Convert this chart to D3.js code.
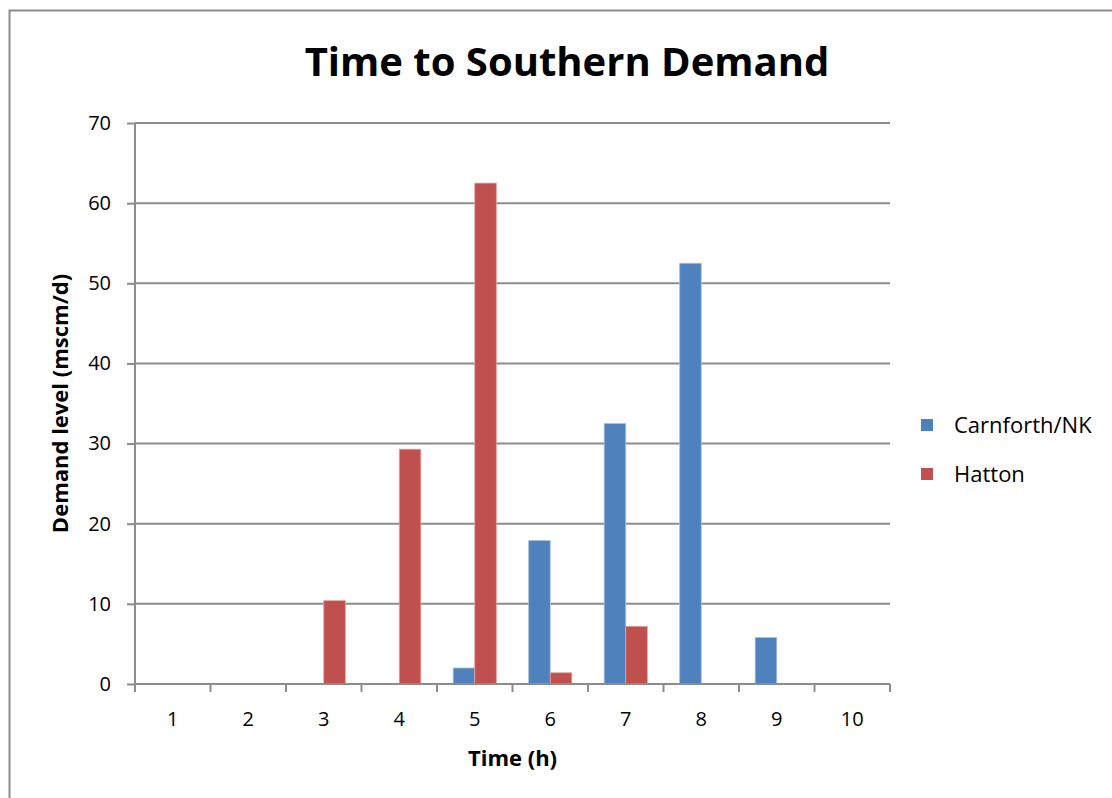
<!DOCTYPE html>
<html>
<head>
<meta charset="utf-8">
<script src="https://cdn.jsdelivr.net/npm/d3@7"></script>
<style>
  html, body { margin: 0; padding: 0; background: #fff; }
  svg { display: block; }
  text { font-family: "Open Sans", Lato, "Noto Sans", sans-serif; fill: #000; }
</style>
</head>
<body>
<script>
// Chart data
const hours = ["1", "2", "3", "4", "5", "6", "7", "8", "9", "10"];
const seriesNames = ["Carnforth/NK", "Hatton"];
const carnforth = [0, 0, 0, 0, 2.0, 17.9, 32.5, 52.5, 5.8, 0];
const hatton = [0, 0, 10.4, 29.3, 62.5, 1.4, 7.2, 0, 0, 0];
const yTicks = [0, 10, 20, 30, 40, 50, 60, 70];
const colors = ["#4F81BD", "#C0504D"];

const W = 1112, H = 798;
const margin = { left: 135, right: 222, top: 123, bottom: 114 };
const plotW = W - margin.left - margin.right;
const plotH = H - margin.top - margin.bottom;

const svg = d3.select("body").append("svg")
  .attr("width", W).attr("height", H);

// outer chart frame
svg.append("rect")
  .attr("x", 9.5).attr("y", 10.5)
  .attr("width", W + 20).attr("height", H + 20)
  .attr("fill", "none").attr("stroke", "#8c8c8c").attr("stroke-width", 2);

const g = svg.append("g").attr("transform", `translate(${margin.left},${margin.top})`);

const x = d3.scaleBand().domain(hours).range([0, plotW]).paddingInner(0).paddingOuter(0);
// gap width of 150%: the two bars take 2 / 3.5 of each category
const barW = x.bandwidth() / 3.5;
const y = d3.scaleLinear().domain([0, 70]).range([plotH, 0]);

// horizontal gridlines
g.append("g")
  .selectAll("line")
  .data(yTicks.filter(d => d > 0))
  .join("line")
  .attr("x1", 0).attr("x2", plotW)
  .attr("y1", d => y(d)).attr("y2", d => y(d))
  .attr("stroke", "#8c8c8c").attr("stroke-width", 2);

// bars
const rows = hours.map((h, i) => ({ h, vals: [carnforth[i], hatton[i]] }));
const groups = g.append("g").selectAll("g")
  .data(rows).join("g")
  .attr("transform", d => `translate(${x(d.h) + barW * 0.75},0)`);
groups.selectAll("rect")
  .data(d => d.vals.map((v, k) => ({ v, k })))
  .join("rect")
  .attr("x", d => d.k * barW)
  .attr("y", d => y(d.v))
  .attr("width", barW)
  .attr("height", d => plotH - y(d.v))
  .attr("fill", d => colors[d.k])
  .attr("stroke", d => d.k === 0 ? "#a9c0dd" : "#e3a3a1")
  .attr("stroke-width", d => d.v > 0 ? 0.8 : 0);

// y axis
const yAxis = d3.axisLeft(y).tickValues(yTicks).tickSize(8).tickPadding(16);
const ya = g.append("g").call(yAxis);
ya.select(".domain").attr("stroke", "#8c8c8c").attr("stroke-width", 2)
  .attr("d", `M0,${plotH + 8}V0`);
ya.selectAll(".tick line").attr("stroke", "#8c8c8c").attr("stroke-width", 2);
ya.selectAll(".tick text").style("font-size", "20px");

// x axis with ticks at category boundaries
const xa = g.append("g").attr("transform", `translate(0,${plotH})`)
  .call(d3.axisBottom(x).tickSize(0).tickPadding(28));
xa.select(".domain").attr("stroke", "#8c8c8c").attr("stroke-width", 2)
  .attr("d", `M0,0H${plotW}`);
xa.selectAll(".tick text").style("font-size", "20px");
xa.append("g").selectAll("line")
  .data(hours.map(h => x(h)).concat([plotW]))
  .join("line")
  .attr("x1", d => d).attr("x2", d => d)
  .attr("y1", 0).attr("y2", 8)
  .attr("stroke", "#8c8c8c").attr("stroke-width", 2);

// titles
svg.append("text")
  .attr("x", 567).attr("y", 76)
  .attr("text-anchor", "middle")
  .style("font-size", "40px").style("font-weight", "bold")
  .text("Time to Southern Demand");

svg.append("text")
  .attr("x", margin.left + plotW / 2).attr("y", 766)
  .attr("text-anchor", "middle")
  .style("font-size", "22px").style("font-weight", "bold")
  .text("Time (h)");

svg.append("text")
  .attr("transform", `translate(68,${margin.top + plotH / 2}) rotate(-90)`)
  .attr("text-anchor", "middle")
  .style("font-size", "22px").style("font-weight", "bold")
  .text("Demand level (mscm/d)");

// legend
const legend = svg.append("g").attr("transform", "translate(921,419)");
const li = legend.selectAll("g").data(seriesNames).join("g")
  .attr("transform", (d, i) => `translate(0,${i * 49})`);
li.append("rect").attr("width", 12).attr("height", 12)
  .attr("fill", (d, i) => colors[i]);
li.append("text").attr("x", 33).attr("y", 6).attr("dy", "0.35em")
  .style("font-size", "22px")
  .text(d => d);
</script>
</body>
</html>
